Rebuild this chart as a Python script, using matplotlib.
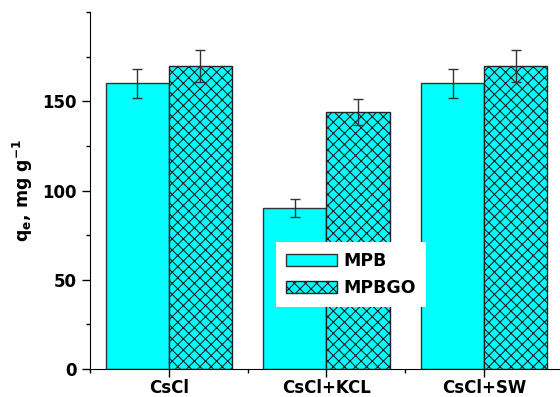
import numpy as np
import matplotlib
matplotlib.use("Agg")
from matplotlib import pyplot as plt
from matplotlib.ticker import MultipleLocator

# Data
groups = ["CsCl", "CsCl+KCL", "CsCl+SW"]
mpb = [160, 90, 160]
mpb_err = [8, 5, 8]
mpbgo = [170, 144, 170]
mpbgo_err = [9, 7.5, 9]

plt.rcParams['font.family'] = ['DejaVu Sans']
plt.rcParams['font.weight'] = 'bold'
plt.rcParams['mathtext.fontset'] = 'custom'
plt.rcParams['mathtext.rm'] = 'DejaVu Sans:bold'
plt.rcParams['mathtext.it'] = 'DejaVu Sans:bold'
plt.rcParams['mathtext.bf'] = 'DejaVu Sans:bold'
plt.rcParams['hatch.linewidth'] = 0.8
plt.rcParams['hatch.color'] = 'black'

fig = plt.figure(figsize=(5.6, 3.97), dpi=100)
ax = fig.add_axes([0.1607, 0.0705, 0.8446, 0.899])

x = np.arange(len(groups))
w = 0.4

ax.bar(x - w/2, mpb, w, color='#00FFFF', edgecolor='#333333', linewidth=1, label='MPB', zorder=2)
ax.bar(x + w/2, mpbgo, w, color='#00FFFF', edgecolor='#222222', linewidth=1, hatch='xxx', label='MPBGO', zorder=2)
ax.errorbar(x - w/2, mpb, yerr=mpb_err, fmt='none', ecolor='#333333', elinewidth=1, capsize=3.5, capthick=1, zorder=3)
ax.errorbar(x + w/2, mpbgo, yerr=mpbgo_err, fmt='none', ecolor='#333333', elinewidth=1, capsize=3.5, capthick=1, zorder=3)

ax.set_xlim(-0.5, 2.5)
ax.set_ylim(0, 200)
ax.set_xticks(x)
ax.set_xticklabels(groups, fontsize=12, fontweight='bold')
ax.xaxis.set_minor_locator(MultipleLocator(1, offset=0.5))
ax.set_yticks([0, 50, 100, 150])
ax.yaxis.set_minor_locator(MultipleLocator(25))
ax.tick_params(axis='both', which='major', direction='out', length=6, width=1, labelsize=12)
ax.tick_params(axis='both', which='minor', direction='out', length=3, width=1)
ax.tick_params(axis='x', which='major', pad=1.5)
for lab in ax.get_yticklabels():
    lab.set_fontweight('bold')

ax.set_ylabel(r'q$_\mathregular{e}$, mg g$^\mathregular{-1}$', fontsize=12.5, fontweight='bold', labelpad=5)

ax.spines['top'].set_visible(False)
ax.spines['right'].set_visible(False)

ax.legend(loc='upper left', bbox_to_anchor=(0.393, 0.357), borderaxespad=0,
          frameon=True, fancybox=False, framealpha=1, facecolor='white', edgecolor='none',
          handlelength=2.9, handleheight=0.7, handletextpad=0.4,
          labelspacing=0.5, borderpad=0.6, prop={'weight': 'bold', 'size': 12.5})

plt.savefig("out.png", dpi=100)
